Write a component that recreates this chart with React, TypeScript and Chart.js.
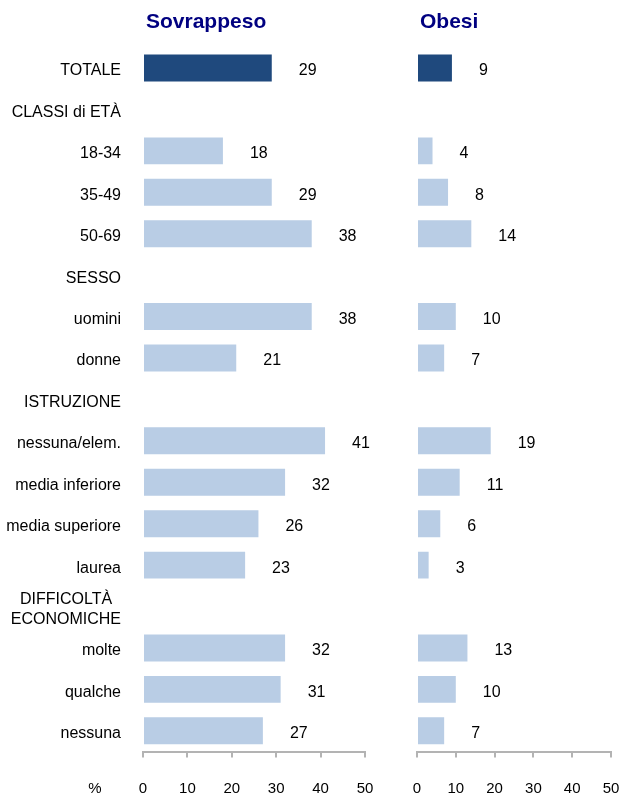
import React, { useEffect, useRef } from 'react';
import { Chart, registerables } from 'chart.js';

Chart.register(...registerables);

const categories: (string | string[])[] = [
  'TOTALE',
  'CLASSI di ETÀ',
  '18-34',
  '35-49',
  '50-69',
  'SESSO',
  'uomini',
  'donne',
  'ISTRUZIONE',
  'nessuna/elem.',
  'media inferiore',
  'media superiore',
  'laurea',
  ['DIFFICOLTÀ  ', 'ECONOMICHE'],
  'molte',
  'qualche',
  'nessuna',
];

const sovrappeso: (number | null)[] = [29, null, 18, 29, 38, null, 38, 21, null, 41, 32, 26, 23, null, 32, 31, 27];
const obesi: (number | null)[] = [9, null, 4, 8, 14, null, 10, 7, null, 19, 11, 6, 3, null, 13, 10, 7];

const panelTitles = ['Sovrappeso', 'Obesi'];
const unitLabel = '%';
const xMin = 0;
const xMax = 50;
const xStep = 10;

const DARK = '#1F497D';
const LIGHT = '#B9CDE5';
const AXIS = '#b3b3b3';
const FONT = '"Liberation Sans", Arial, sans-serif';

function buildChart(canvas: HTMLCanvasElement, values: (number | null)[], title: string, isLeft: boolean) {
  const overlay = {
    id: 'overlay',
    afterDatasetsDraw(chart: any) {
      const ctx = chart.ctx as CanvasRenderingContext2D;
      const meta = chart.getDatasetMeta(0);
      ctx.save();
      ctx.font = `16px ${FONT}`;
      ctx.fillStyle = '#000';
      ctx.textAlign = 'left';
      ctx.textBaseline = 'middle';
      meta.data.forEach((el: any, i: number) => {
        const v = values[i];
        if (v == null) return;
        ctx.fillText(String(v), el.x + 27, el.y + 3);
      });
      ctx.font = `bold 21px ${FONT}`;
      ctx.fillStyle = '#000080';
      ctx.textAlign = 'left';
      ctx.fillText(title, chart.chartArea.left + 3, 22);
      if (isLeft) {
        ctx.font = `15px ${FONT}`;
        ctx.fillStyle = '#000';
        ctx.textAlign = 'center';
        ctx.fillText(unitLabel, 95, 789);
      }
      ctx.restore();
    },
  };

  return new Chart(canvas, {
    type: 'bar',
    data: {
      labels: categories as any,
      datasets: [
        {
          data: values as any,
          backgroundColor: values.map((_, i) => (i === 0 ? DARK : LIGHT)),
          borderWidth: 0,
          barPercentage: 0.65,
          categoryPercentage: 1,
        },
      ],
    },
    options: {
      indexAxis: 'y',
      responsive: false,
      animation: false,
      layout: {
        padding: isLeft
          ? { left: 0, right: 30, top: 47.3, bottom: 0 }
          : { left: 0, right: 11, top: 47.3, bottom: 0 },
      },
      plugins: {
        legend: { display: false },
        tooltip: { enabled: false },
        title: { display: false },
      },
      scales: {
        x: {
          min: xMin,
          max: xMax,
          ticks: {
            stepSize: xStep,
            autoSkip: false,
            maxRotation: 0,
            color: '#000',
            font: { family: FONT, size: 15 },
            padding: 22,
          },
          grid: {
            display: true,
            drawOnChartArea: false,
            drawTicks: true,
            tickLength: 6,
            color: AXIS,
            lineWidth: 2,
          },
          border: { display: true, color: AXIS, width: 2 },
          afterFit(scale: any) {
            scale.height = 44.5;
            scale.paddingLeft = 0;
            scale.paddingRight = 0;
          },
        },
        y: {
          display: true,
          ticks: {
            display: isLeft,
            color: '#000',
            font: { family: FONT, size: 16 },
            padding: 22,
            autoSkip: false,
            labelOffset: 3,
          },
          grid: { display: false, drawTicks: false },
          border: { display: false },
          afterFit(scale: any) {
            scale.width = isLeft ? 143 : 22;
            scale.paddingTop = 0;
            scale.paddingBottom = 0;
          },
        },
      },
    },
    plugins: [overlay],
  } as any);
}

export default function App() {
  const leftRef = useRef<HTMLCanvasElement>(null);
  const rightRef = useRef<HTMLCanvasElement>(null);

  useEffect(() => {
    const a = buildChart(leftRef.current!, sovrappeso, panelTitles[0], true);
    const b = buildChart(rightRef.current!, obesi, panelTitles[1], false);
    return () => {
      a.destroy();
      b.destroy();
    };
  }, []);

  return (
    <div style={{ position: 'absolute', left: 0, top: 0, width: 622, height: 796, background: '#fff' }}>
      <canvas ref={leftRef} width={395} height={796} style={{ position: 'absolute', left: 0, top: 0, width: 395, height: 796 }} />
      <canvas ref={rightRef} width={227} height={796} style={{ position: 'absolute', left: 395, top: 0, width: 227, height: 796 }} />
    </div>
  );
}
